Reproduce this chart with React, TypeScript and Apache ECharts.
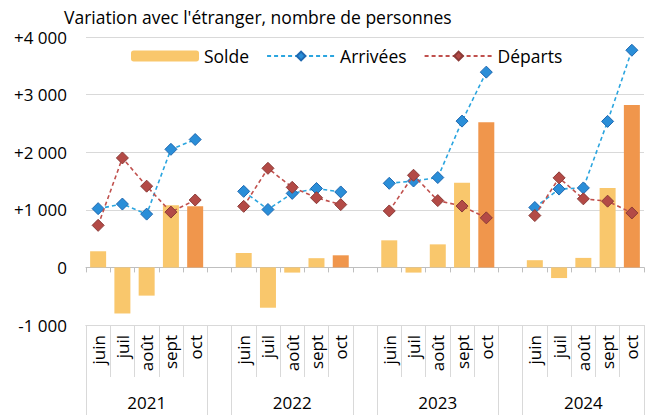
import React, { useEffect, useRef } from 'react';
import * as echarts from 'echarts';

const months = ['juin', 'juil', 'août', 'sept', 'oct'];
const years = ['2021', '2022', '2023', '2024'];

const solde2021 = [280, -800, -490, 1080, 1060];
const solde2022 = [250, -700, -90, 160, 210];
const solde2023 = [470, -90, 400, 1470, 2520];
const solde2024 = [125, -185, 165, 1380, 2820];

const arrivees2021 = [1020, 1100, 925, 2050, 2220];
const arrivees2022 = [1320, 1005, 1285, 1370, 1310];
const arrivees2023 = [1460, 1500, 1560, 2540, 3390];
const arrivees2024 = [1040, 1360, 1380, 2535, 3770];

const departs2021 = [730, 1900, 1410, 960, 1170];
const departs2022 = [1060, 1720, 1390, 1210, 1090];
const departs2023 = [980, 1600, 1160, 1065, 860];
const departs2024 = [900, 1555, 1190, 1150, 945];

const yTicks = [-1000, 0, 1000, 2000, 3000, 4000];

const FONT = 'Open Sans';
const C_BAR = '#F9C76C';
const C_BAR_OCT = '#F0964C';
const C_ARR = '#2BA5DF';
const C_ARR_M = '#2A8ED8';
const C_ARR_B = '#1F68B0';
const C_DEP = '#C0504D';
const C_DEP_M = '#B34A46';
const C_DEP_B = '#8B3A37';
const C_GRID = '#D9D9D9';

function joinGroups<T>(groups: T[][], gap: T): T[] {
  const out: T[] = [];
  groups.forEach((g, i) => {
    if (i > 0) out.push(gap);
    g.forEach((v) => out.push(v));
  });
  return out;
}

function fmt(v: number): string {
  if (v === 0) return '0';
  const a = Math.abs(v);
  const s = a >= 1000 ? `${Math.floor(a / 1000)} ${String(a % 1000).padStart(3, '0')}` : String(a);
  return (v > 0 ? '+' : '-') + s;
}

export default function App() {
  const ref = useRef<HTMLDivElement>(null);
  useEffect(() => {
    document.body.style.margin = '0';
    if (!ref.current) return;
    const chart = echarts.init(ref.current, undefined, { renderer: 'svg' });

    const monthCats = joinGroups(years.map(() => months), '');
    const yearCats = joinGroups(
      years.map((y) => months.map((_, i) => (i === 2 ? y : ''))),
      ''
    );
    const boundaries = new Set<number>();
    let idx = 0;
    years.forEach((_, i) => {
      if (i > 0) {
        boundaries.add(idx);
        idx += 1;
      }
      boundaries.add(idx);
      idx += months.length;
    });

    const soldeData = joinGroups(
      [solde2021, solde2022, solde2023, solde2024].map((arr) =>
        arr.map((v, i) => ({
          value: v,
          itemStyle: { color: i === months.length - 1 ? C_BAR_OCT : C_BAR },
        }))
      ),
      null as any
    );
    const arrData = joinGroups([arrivees2021, arrivees2022, arrivees2023, arrivees2024], null as any);
    const depData = joinGroups([departs2021, departs2022, departs2023, departs2024], null as any);

    chart.setOption({
      animation: false,
      title: {
        text: "Variation avec l'étranger, nombre de personnes",
        left: 59,
        top: 3,
        textStyle: { fontFamily: FONT, fontSize: 17.5, fontWeight: 'normal', color: '#000' },
      },
      legend: {
        left: 126,
        top: 42,
        itemWidth: 68,
        itemHeight: 11,
        itemGap: 17,
        textStyle: { fontFamily: FONT, fontSize: 17.5, color: '#000' },
        data: ['Solde', 'Arrivées', 'Départs'],
      },
      grid: { left: 86, right: 1, top: 37, bottom: 90, containLabel: false },
      xAxis: [
        {
          type: 'category',
          data: monthCats,
          position: 'bottom',
          axisLine: { show: true, onZero: false, lineStyle: { color: C_GRID } },
          axisTick: { show: true, interval: 0, length: 52, lineStyle: { color: C_GRID } },
          axisLabel: {
            interval: 0,
            rotate: 90,
            margin: 10,
            fontFamily: FONT,
            fontSize: 17,
            color: '#000',
          },
          splitLine: { show: false },
        },
        {
          type: 'category',
          data: yearCats,
          position: 'bottom',
          axisLine: { show: true, onZero: false, lineStyle: { color: C_GRID } },
          axisTick: {
            show: true,
            interval: (i: number) => boundaries.has(i),
            length: 92,
            lineStyle: { color: C_GRID },
          },
          axisLabel: {
            interval: 0,
            margin: 69,
            fontFamily: FONT,
            fontSize: 17,
            color: '#000',
          },
          splitLine: { show: false },
        },
        {
          type: 'category',
          data: monthCats,
          position: 'bottom',
          axisLine: { show: true, onZero: true, lineStyle: { color: '#BFBFBF' } },
          axisTick: { show: true, interval: 0, length: 5, lineStyle: { color: '#BFBFBF' } },
          axisLabel: { show: false },
          splitLine: { show: false },
        },
      ],
      yAxis: {
        type: 'value',
        min: yTicks[0],
        max: yTicks[yTicks.length - 1],
        interval: 1000,
        axisLine: { show: false },
        axisTick: { show: false },
        axisLabel: {
          margin: 19,
          fontFamily: FONT,
          fontSize: 17,
          color: '#000',
          formatter: (v: number) => fmt(v),
        },
        splitLine: { show: true, lineStyle: { color: C_GRID, width: 1 } },
      },
      series: [
        {
          name: 'Solde',
          type: 'bar',
          xAxisIndex: 0,
          barWidth: 16,
          itemStyle: { color: C_BAR },
          data: soldeData,
          z: 1,
        },
        {
          name: 'Arrivées',
          type: 'line',
          xAxisIndex: 0,
          symbol: 'diamond',
          symbolSize: 12,
          connectNulls: false,
          lineStyle: { color: C_ARR, width: 1.6, type: [4, 3] },
          itemStyle: { color: C_ARR_M, borderColor: C_ARR_B, borderWidth: 1 },
          data: arrData,
          z: 3,
        },
        {
          name: 'Départs',
          type: 'line',
          xAxisIndex: 0,
          symbol: 'diamond',
          symbolSize: 12,
          connectNulls: false,
          lineStyle: { color: C_DEP, width: 1.6, type: [4, 3] },
          itemStyle: { color: C_DEP_M, borderColor: C_DEP_B, borderWidth: 1 },
          data: depData,
          z: 4,
        },
      ],
    });
    return () => chart.dispose();
  }, []);
  return <div ref={ref} style={{ width: 645, height: 415 }} />;
}
